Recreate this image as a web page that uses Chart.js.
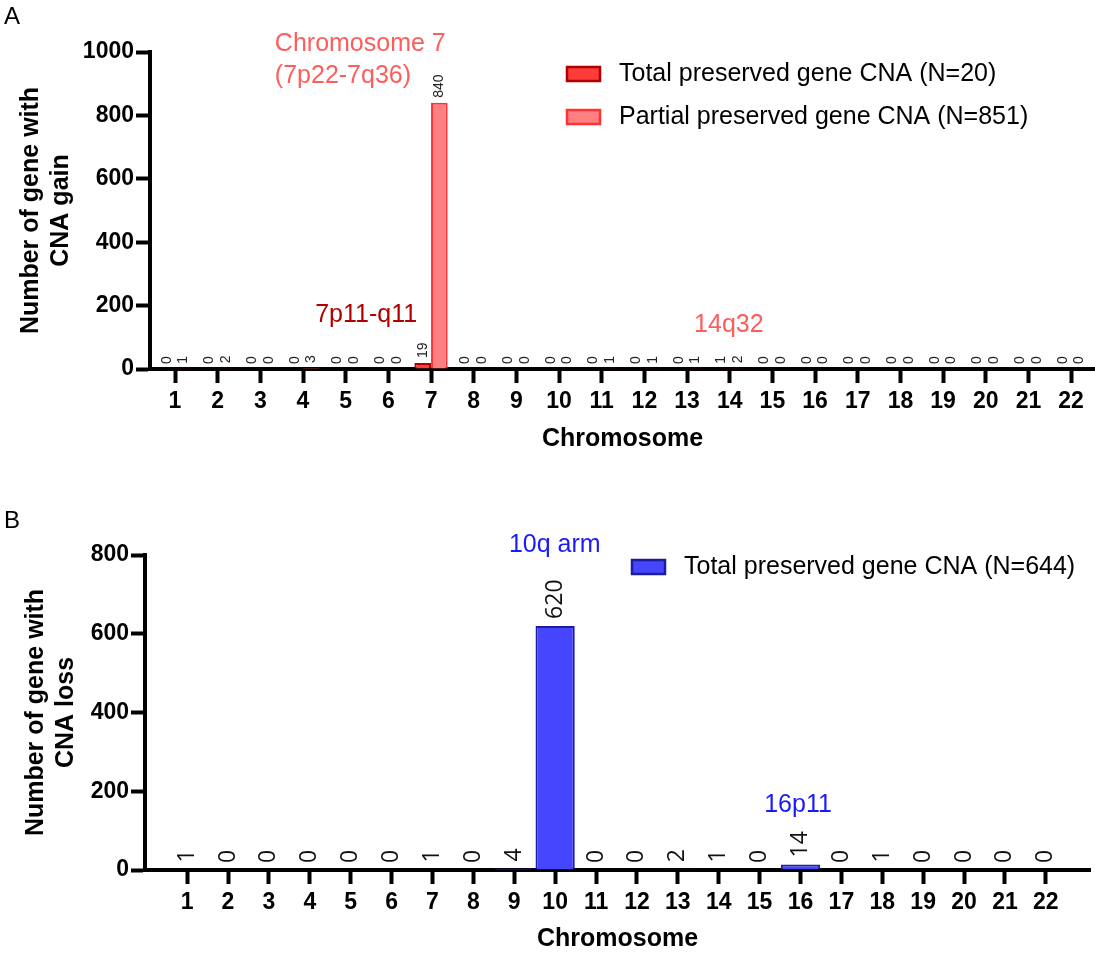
<!DOCTYPE html>
<html>
<head>
<meta charset="utf-8">
<script src="https://cdn.jsdelivr.net/npm/chart.js@4.4.0/dist/chart.umd.min.js"></script>
<style>
  body { margin: 0; background: #fff; }
  .panel { position: absolute; left: 0; width: 1095px; }
  #panelA { top: 0; height: 480px; }
  #panelB { top: 500px; height: 454px; }
  .tag { position: absolute; left: 4px; font: 24px "Liberation Sans", Arial, sans-serif; color: #000; }
</style>
</head>
<body>
<div class="panel" id="panelA"><canvas id="gainChart"></canvas></div>
<div class="panel" id="panelB"><canvas id="lossChart"></canvas></div>
<div class="tag" style="top:2px">A</div>
<div class="tag" style="top:506px">B</div>
<script>
const chromosomes = [1, 2, 3, 4, 5, 6, 7, 8, 9, 10, 11, 12, 13, 14, 15, 16, 17, 18, 19, 20, 21, 22];

// panel A - CNA gain
const gainTotal   = [0, 0, 0, 0, 0, 0, 19, 0, 0, 0, 0, 0, 0, 1, 0, 0, 0, 0, 0, 0, 0, 0];
const gainPartial = [1, 2, 0, 3, 0, 0, 840, 0, 0, 0, 1, 1, 1, 2, 0, 0, 0, 0, 0, 0, 0, 0];
const gainTicks   = [0, 200, 400, 600, 800, 1000];

// panel B - CNA loss
const lossTotal = [1, 0, 0, 0, 0, 0, 1, 0, 4, 620, 0, 0, 2, 1, 0, 14, 0, 1, 0, 0, 0, 0];
const lossTicks = [0, 200, 400, 600, 800];

const gainNotes = [
  { text: ['Chromosome 7', '(7p22-7q36)'], x: 3.34, y: 1025, color: '#ff5c5c', align: 'left' },
  { text: ['7p11-q11'], x: 5.48, y: 170, color: '#b00000', align: 'center' },
  { text: ['14q32'], x: 13.98, y: 139, color: '#ff5c5c', align: 'center' }
];
const lossNotes = [
  { text: ['10q arm'], x: 9.99, y: 825, color: '#1a1aff', align: 'center' },
  { text: ['16p11'], x: 15.94, y: 165, color: '#1a1aff', align: 'center' }
];

const FONT = '"Liberation Sans", Arial, sans-serif';

// rotated value above every bar
const barValueLabels = {
  id: 'barValueLabels',
  afterDatasetsDraw(chart, args, opts) {
    const ctx = chart.ctx;
    ctx.save();
    ctx.font = opts.font;
    ctx.fillStyle = opts.color;
    ctx.textAlign = 'left';
    ctx.textBaseline = 'middle';
    chart.data.datasets.forEach((ds, i) => {
      chart.getDatasetMeta(i).data.forEach((bar, j) => {
        ctx.save();
        ctx.translate(bar.x, bar.y - opts.gap);
        ctx.rotate(-Math.PI / 2);
        ctx.fillText(String(ds.data[j]), 0, 0);
        ctx.restore();
      });
    });
    ctx.restore();
  }
};

// coloured region names
const regionNotes = {
  id: 'regionNotes',
  afterDraw(chart, args, opts) {
    const ctx = chart.ctx;
    const xs = chart.scales.x, ys = chart.scales.y;
    ctx.save();
    ctx.font = opts.font;
    ctx.textBaseline = 'middle';
    opts.notes.forEach(n => {
      ctx.fillStyle = n.color;
      ctx.textAlign = n.align;
      const px = xs.getPixelForValue(n.x);
      const py = ys.getPixelForValue(n.y);
      n.text.forEach((line, k) => ctx.fillText(line, px, py + k * opts.lineGap));
    });
    ctx.restore();
  }
};

// legend drawn at a fixed spot inside the plot
const boxLegend = {
  id: 'boxLegend',
  afterDraw(chart, args, opts) {
    const ctx = chart.ctx;
    ctx.save();
    ctx.font = opts.font;
    ctx.textBaseline = 'middle';
    ctx.textAlign = 'left';
    chart.data.datasets.forEach((ds, i) => {
      const y = opts.y + i * opts.rowGap;
      ctx.fillStyle = ds.backgroundColor;
      ctx.fillRect(opts.x, y - 7, 33, 14);
      ctx.strokeStyle = ds.borderColor;
      ctx.lineWidth = 2.5;
      ctx.strokeRect(opts.x, y - 7, 33, 14);
      ctx.fillStyle = '#000';
      ctx.fillText(ds.label, opts.x + 52, y);
    });
    ctx.restore();
  }
};

function makeOptions(cfg) {
  return {
    responsive: true,
    maintainAspectRatio: false,
    animation: false,
    layout: { padding: { top: cfg.padTop, right: cfg.padRight, left: 0, bottom: 0 } },
    plugins: {
      legend: { display: false },
      tooltip: { enabled: false },
      barValueLabels: cfg.valueLabels,
      regionNotes: { notes: cfg.notes, font: '25px ' + FONT, lineGap: 32 },
      boxLegend: cfg.legend
    },
    scales: {
      x: {
        type: 'linear',
        offset: false,
        min: cfg.xMin,
        max: cfg.xMax,
        afterBuildTicks: s => { s.ticks = chromosomes.map(v => ({ value: v })); },
        afterFit: s => { s.height = cfg.xHeight; },
        grid: { offset: false, drawOnChartArea: false, drawTicks: true, tickLength: 14, tickWidth: 4, tickColor: '#000' },
        border: { display: true, color: '#000', width: 4 },
        ticks: {
          color: '#000', padding: 5, maxRotation: 0, autoSkip: false,
          font: { family: FONT, size: 23, weight: 'bold' },
          callback: v => String(v)
        },
        title: {
          display: true, text: 'Chromosome', color: '#000',
          font: { family: FONT, size: 25, weight: 'bold' },
          padding: { top: 0, bottom: cfg.xTitlePad }
        }
      },
      y: {
        min: 0,
        max: cfg.yTicks[cfg.yTicks.length - 1],
        afterBuildTicks: s => { s.ticks = cfg.yTicks.map(v => ({ value: v })); },
        afterFit: s => { s.width = cfg.yWidth; },
        grid: { drawOnChartArea: false, drawTicks: true, tickLength: 14, tickWidth: 4, tickColor: '#000' },
        border: { display: true, color: '#000', width: 4 },
        ticks: {
          color: '#000', padding: 2,
          font: { family: FONT, size: 23, weight: 'bold' },
          callback: v => String(v)
        },
        title: {
          display: true, text: cfg.yTitle, color: '#000',
          font: { family: FONT, size: 25, weight: 'bold' },
          padding: { top: cfg.yTitlePad, bottom: 0 }
        }
      }
    }
  };
}

new Chart(document.getElementById('gainChart'), {
  type: 'bar',
  data: {
    labels: chromosomes,
    datasets: [{
      label: 'Total preserved gene CNA (N=20)',
      data: gainTotal,
      backgroundColor: '#ff3b3b',
      borderColor: '#b00000',
      borderWidth: 2,
      categoryPercentage: 0.78,
      barPercentage: 1.0
    }, {
      label: 'Partial preserved gene CNA (N=851)',
      data: gainPartial,
      backgroundColor: '#ff8080',
      borderColor: '#ff3333',
      borderWidth: 2,
      categoryPercentage: 0.78,
      barPercentage: 1.0
    }]
  },
  options: makeOptions({
    padTop: 52, padRight: 0, xMin: 0.414, xMax: 22.56, xHeight: 111, xTitlePad: 26,
    yWidth: 150, yTitlePad: 16, yTicks: gainTicks,
    yTitle: ['Number of gene with', 'CNA gain'],
    notes: gainNotes,
    valueLabels: { font: '14px ' + FONT, color: '#222', gap: 5 },
    legend: { x: 567, y: 74, rowGap: 43, font: '25px ' + FONT }
  }),
  plugins: [barValueLabels, regionNotes, boxLegend]
});

new Chart(document.getElementById('lossChart'), {
  type: 'bar',
  data: {
    labels: chromosomes,
    datasets: [{
      label: 'Total preserved gene CNA (N=644)',
      data: lossTotal,
      backgroundColor: '#4646ff',
      borderColor: '#1c1c9c',
      borderWidth: 2,
      categoryPercentage: 0.96,
      barPercentage: 1.0
    }]
  },
  options: makeOptions({
    padTop: 55, padRight: 5, xMin: -0.03, xMax: 23.08, xHeight: 84, xTitlePad: 0,
    yWidth: 145, yTitlePad: 21, yTicks: lossTicks,
    yTitle: ['Number of gene with', 'CNA loss'],
    notes: lossNotes,
    valueLabels: { font: '23px "Open Sans", ' + FONT, color: '#111', gap: 7 },
    legend: { x: 632, y: 67, rowGap: 43, font: '25px ' + FONT }
  }),
  plugins: [barValueLabels, regionNotes, boxLegend]
});
</script>
</body>
</html>
